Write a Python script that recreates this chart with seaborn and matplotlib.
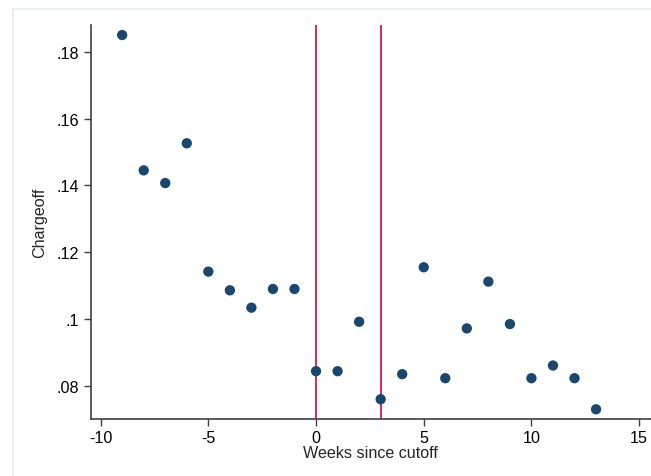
import matplotlib
matplotlib.use("Agg")
import matplotlib.pyplot as plt
import seaborn as sns
import pandas as pd
from matplotlib.patches import Rectangle

weeks = [-9, -8, -7, -6, -5, -4, -3, -2, -1, 0, 1, 2, 3, 4, 5, 6, 7, 8, 9, 10, 11, 12, 13]
chargeoff = [0.1850, 0.1445, 0.1407, 0.1526, 0.1142, 0.1086, 0.1034, 0.1090, 0.1090,
             0.0844, 0.0844, 0.0992, 0.0760, 0.0835, 0.1155, 0.0823, 0.0972, 0.1112,
             0.0985, 0.0823, 0.0861, 0.0823, 0.0730]
cutoffs = [0, 3]
xticks = [-10, -5, 0, 5, 10, 15]
yticks = [0.08, 0.10, 0.12, 0.14, 0.16, 0.18]
ytick_labels = [".08", ".1", ".12", ".14", ".16", ".18"]

sns.set_theme(style="white")
plt.rcParams['font.family'] = ['Liberation Sans', 'DejaVu Sans']

df = pd.DataFrame({"Weeks since cutoff": weeks, "Chargeoff": chargeoff})

fig = plt.figure(figsize=(6.51, 4.77), dpi=100)
fig.patches.append(Rectangle((13/651, -0.1), 1.2, 1.1 - 10/477, transform=fig.transFigure,
                             fill=False, edgecolor="#e6eded", linewidth=1.2))
ax = fig.add_axes([90.5/651, 1 - 420.3/477, 1 - 90.5/651, (420.3 - 26) / 477])

for c in cutoffs:
    ax.axvline(c, color="#d11a48", linewidth=1.3, zorder=1)

sns.scatterplot(data=df, x="Weeks since cutoff", y="Chargeoff", ax=ax,
                color="#1a476f", s=55, edgecolor="none", zorder=3)

ax.set_xlim(-10.47, 15.55)
ax.set_ylim(0.0700, 0.1880)
ax.set_xticks(xticks)
ax.set_xticklabels([str(t) for t in xticks])
ax.set_yticks(yticks)
ax.set_yticklabels(ytick_labels)

for s in ["top", "right"]:
    ax.spines[s].set_visible(False)
for s in ["left", "bottom"]:
    ax.spines[s].set_color("#404040")
    ax.spines[s].set_linewidth(1.2)

ax.tick_params(axis="both", which="major", direction="out", length=5, width=1.0,
               color="#404040", labelsize=11.6, labelcolor="black", pad=3,
               bottom=True, left=True)
ax.set_xlabel("Weeks since cutoff", fontsize=11.6, labelpad=0)
ax.set_ylabel("Chargeoff", fontsize=11.6, labelpad=7)

fig.savefig("out.png", dpi=100)
